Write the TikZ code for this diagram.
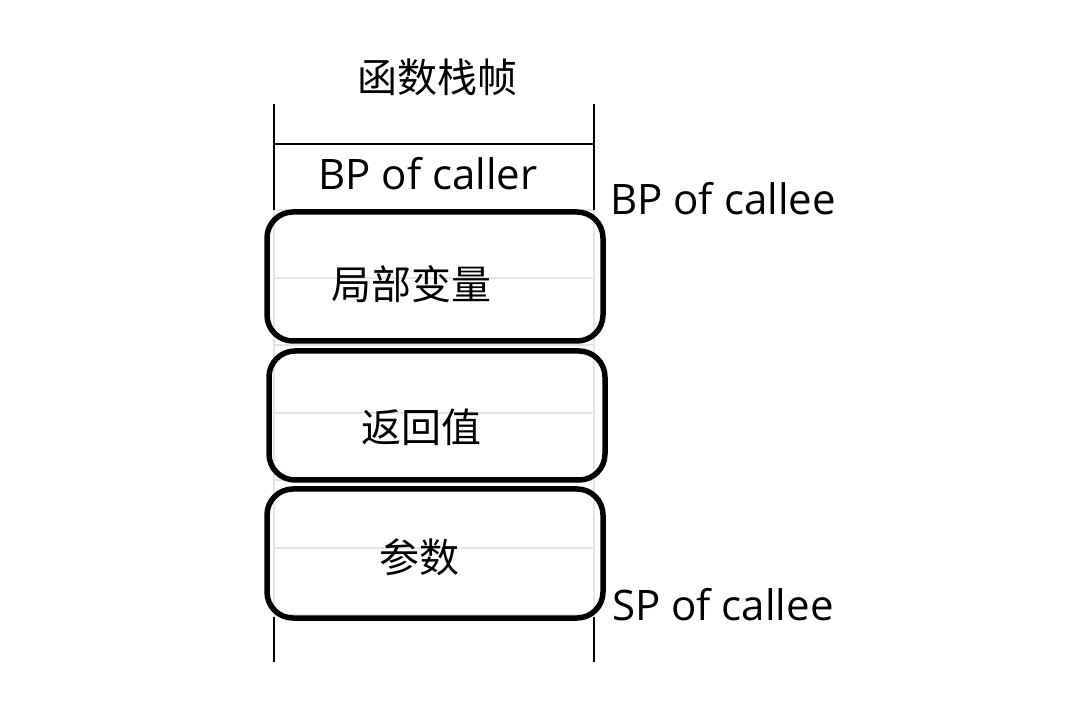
\documentclass[tikz,border=0pt]{standalone}
\usepackage{fontspec}
\setmainfont{Open Sans}
\newfontfamily\cjk{Noto Sans CJK SC}
\begin{document}
\begin{tikzpicture}[x=1pt, y=-1pt,
    every node/.style={font=\fontsize{42}{50}\selectfont, inner sep=0pt},
    cjklabel/.style={font=\fontsize{40}{48}\selectfont\cjk},
    slot/.style={draw, line width=5.5pt, rounded corners=26pt, minimum width=336pt, minimum height=129pt},
    rowline/.style={draw=black!10, line width=2pt},
    frameline/.style={draw=black, line width=1.6pt}]
    \useasboundingbox (0,0) rectangle (1072,708);

    % Stack frame column
    \coordinate (lt) at (274,104);
    \coordinate (rt) at (594,104);
    \coordinate (lb) at (274,662);
    \coordinate (rb) at (594,662);
    \coordinate (ls) at (274,210);
    \coordinate (rs) at (594,210);
    \coordinate (le) at (274,617);
    \coordinate (re) at (594,617);
    \coordinate (lh) at (274,144);
    \coordinate (rh) at (594,144);

    % Faint row lines
    \foreach \y in {210,278,345,413,480,548,615}
        \draw[rowline] (274,\y) -- (594,\y);
    \draw[rowline] (ls) -- (le);
    \draw[rowline] (rs) -- (re);

    \draw[frameline] (lt) -- (ls);
    \draw[frameline] (rt) -- (rs);
    \draw[frameline] (le) -- (lb);
    \draw[frameline] (re) -- (rb);
    \draw[frameline] (lh) -- (rh);

    % Title and labels
    \node[cjklabel] (title) at (437,77) {函数栈帧};
    \node (bpcaller) at (428,174) {BP of caller};
    \node[anchor=west] (bpcallee) at (610,199) {BP of callee};
    \node[anchor=west] (spcallee) at (612,605) {SP of callee};

    % Slots
    \node[slot] (locals) at (435,276.5) {};
    \node[slot] (retval) at (437,415.5) {};
    \node[slot] (args) at (435,553.5) {};
    \node[cjklabel] (localstext) at (411,284) {局部变量};
    \node[cjklabel] (retvaltext) at (421,427) {返回值};
    \node[cjklabel] (argstext) at (419,557) {参数};
\end{tikzpicture}
\end{document}
